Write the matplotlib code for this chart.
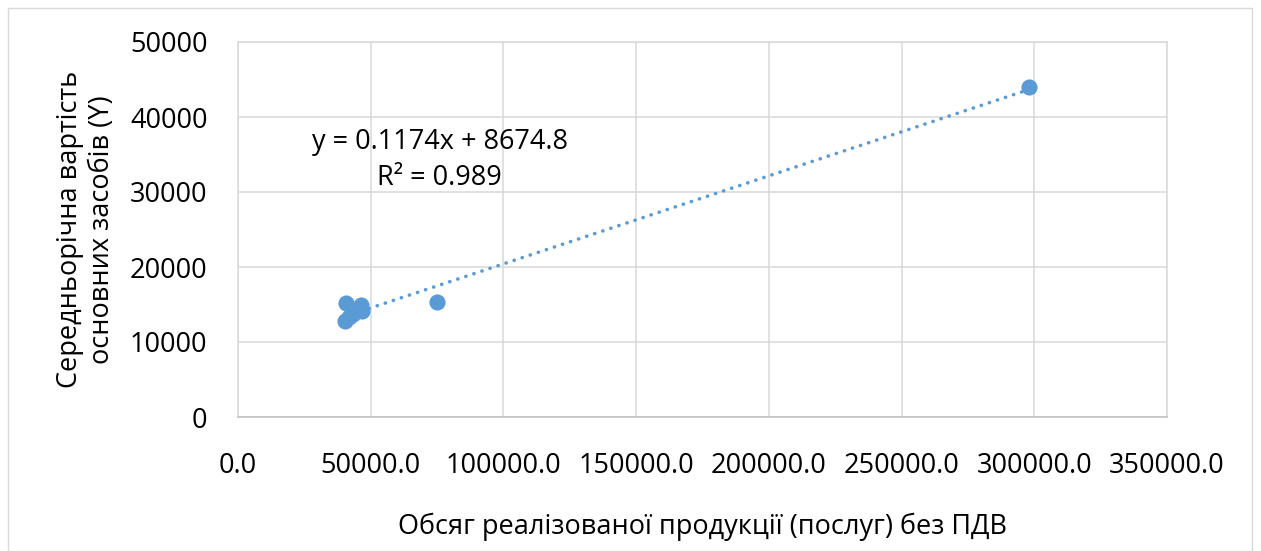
import numpy as np
import matplotlib
matplotlib.use("Agg")
from matplotlib import pyplot as plt
from matplotlib.patches import Rectangle

# values
sales = [40300, 40800, 42000, 43500, 44800, 46300, 46700, 75000, 298000]
fixed_assets = [12800, 15200, 13300, 13800, 14300, 15000, 14200, 15400, 44000]

# trendline as printed on the chart
slope = 0.1174
intercept = 8674.8
r_squared = 0.989

x_ticks = [0, 50000, 100000, 150000, 200000, 250000, 300000, 350000]
y_ticks = [0, 10000, 20000, 30000, 40000, 50000]

x_title = "Обсяг реалізованої продукції (послуг) без ПДВ"
y_title = "Середньорічна вартість\nосновних засобів (Y)"

plt.rcParams['font.family'] = ['Open Sans', 'DejaVu Sans']

blue = '#5B9BD5'
grid_gray = '#D9D9D9'
fs = 19.5

fig = plt.figure(figsize=(12.61, 5.51), dpi=100)
ax = fig.add_axes([238 / 1261, 1 - 417 / 551, (1167 - 238) / 1261, (417 - 42) / 551])

# outer chart border
fig.patches.append(Rectangle((8 / 1261, 0), 1244 / 1261, 543 / 551, transform=fig.transFigure,
                             fill=False, edgecolor=grid_gray, linewidth=1))

ax.scatter(sales, fixed_assets, s=135, color=blue, zorder=3, linewidths=0)

# dotted linear trendline across the data range
tx = np.array([min(sales), max(sales)])
ax.plot(tx, slope * tx + intercept, color=blue, linewidth=2.6,
        linestyle=(0, (0.05, 2.3)), dash_capstyle='round', zorder=2)

ax.text(0.217, 0.685, "y = %.4fx + %.1f\nR² = %.3f" % (slope, intercept, r_squared),
        transform=ax.transAxes, ha='center', va='center', fontsize=fs, linespacing=1.35,
        color='#000000')

ax.set_xlim(0, 350000)
ax.set_ylim(0, 50000)
ax.set_xticks(x_ticks)
ax.set_yticks(y_ticks)
ax.set_xticklabels(["%.1f" % v for v in x_ticks])
ax.set_yticklabels([str(v) for v in y_ticks])
ax.tick_params(length=0, labelsize=fs, colors='#000000')
ax.tick_params(axis='x', pad=25)
ax.tick_params(axis='y', pad=22)

ax.grid(True, color=grid_gray, linewidth=1.1)
ax.set_axisbelow(True)
for s in ax.spines.values():
    s.set_color(grid_gray)
    s.set_linewidth(1.1)
ax.spines['bottom'].set_color('#BFBFBF')

ax.set_xlabel(x_title, fontsize=fs, labelpad=24)
ax.set_ylabel(y_title, fontsize=fs, labelpad=10, linespacing=1.2)

fig.savefig('out.png', dpi=100)
